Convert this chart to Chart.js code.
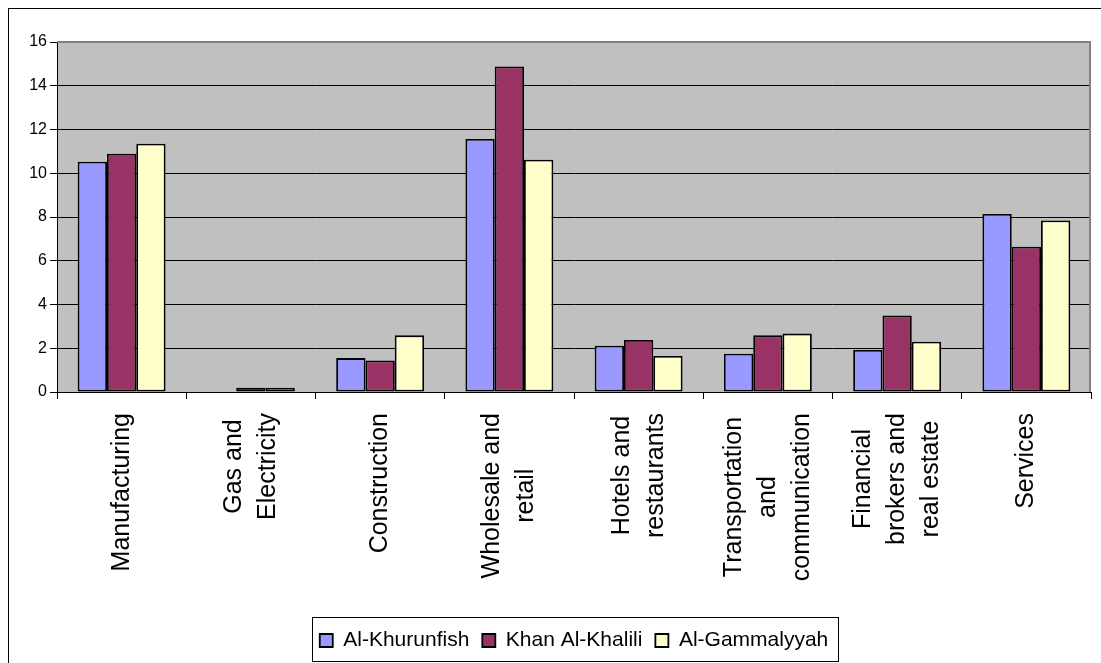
<!DOCTYPE html>
<html>
<head>
<meta charset="utf-8">
<title>Sectors</title>
<script src="https://cdn.jsdelivr.net/npm/chart.js@4.4.0/dist/chart.umd.min.js"></script>
<style>
    body { margin: 0; background: #ffffff; overflow: hidden; }
    canvas { display: block; }
</style>
</head>
<body>
<canvas id="barChart" width="1101" height="663"></canvas>
<script>
var categorias = [
    ["Manufacturing"],
    ["Gas and", "Electricity"],
    ["Construction"],
    ["Wholesale and", "retail"],
    ["Hotels and", "restaurants"],
    ["Transportation", "and", "communication"],
    ["Financial", "brokers and", "real estate"],
    ["Services"]
];
var khurunfish = [10.53, 0, 1.55, 11.57, 2.12, 1.75, 1.92, 8.14];
var khalili = [10.89, 0.2, 1.44, 14.88, 2.38, 2.59, 3.5, 6.64];
var gammalyyah = [11.35, 0.2, 2.59, 10.62, 1.65, 2.67, 2.3, 7.84];
var nombresSeries = ["Al-Khurunfish", "Khan Al-Khalili", "Al-Gammalyyah"];
var yTicks = [0, 2, 4, 6, 8, 10, 12, 14, 16];

var fuente = "'Liberation Sans', Arial, sans-serif";

// outer frame, grey plot area and the category labels
var marcoPlugin = {
    id: "marco",
    afterLayout: function (chart) {
        // centre the legend under the plot area
        let lg = chart.legend;
        let ca = chart.chartArea;
        let shift = ((ca.left + ca.right) - (lg.left + lg.right)) / 2;
        lg.left += shift;
        lg.right += shift;
    },
    beforeDraw: function (chart) {
        let ctx = chart.ctx;
        let ca = chart.chartArea;
        ctx.save();
        ctx.fillStyle = "#ffffff";
        ctx.fillRect(0, 0, chart.width, chart.height);
        ctx.strokeStyle = "#000000";
        ctx.lineWidth = 1;
        ctx.strokeRect(8.5, 8.5, 3000, 3000);
        ctx.fillStyle = "#c0c0c0";
        ctx.fillRect(ca.left, ca.top, ca.right - ca.left, ca.bottom - ca.top);
        ctx.restore();
    },
    afterDatasetsDraw: function (chart) {
        let ctx = chart.ctx;
        let ca = chart.chartArea;
        ctx.save();
        ctx.strokeStyle = "#808080";
        ctx.lineWidth = 2;
        ctx.beginPath();
        ctx.moveTo(ca.left, ca.top);
        ctx.lineTo(ca.right - 1, ca.top);
        ctx.lineTo(ca.right - 1, ca.bottom);
        ctx.stroke();
        ctx.restore();
    },
    afterDraw: function (chart) {
        let ctx = chart.ctx;
        let xScale = chart.scales.x;
        ctx.save();
        ctx.fillStyle = "#000000";
        ctx.font = "25px " + fuente;
        ctx.textAlign = "center";
        ctx.textBaseline = "middle";
        let lineHeight = 34;
        categorias.forEach(function (lineas, i) {
            let cx = xScale.getPixelForValue(i);
            let maxW = 0;
            lineas.forEach(function (l) {
                maxW = Math.max(maxW, ctx.measureText(l).width);
            });
            let cy = xScale.top + 21 + maxW / 2;
            lineas.forEach(function (l, j) {
                let lx = cx + (j - (lineas.length - 1) / 2) * lineHeight;
                ctx.save();
                ctx.translate(lx, cy);
                ctx.rotate(-Math.PI / 2);
                ctx.fillText(l, 0, 0);
                ctx.restore();
            });
        });

        // box round the legend
        let lg = chart.legend;
        let boxes = lg.legendHitBoxes;
        if (boxes && boxes.length) {
            let first = boxes[0];
            let last = boxes[boxes.length - 1];
            let left = Math.round(first.left - 8) + 0.5;
            let right = Math.round(last.left + last.width + 10) + 0.5;
            let top = Math.round(lg.top) + 0.5;
            let bottom = Math.round(lg.top + 44) + 0.5;
            ctx.strokeStyle = "#000000";
            ctx.lineWidth = 1;
            ctx.strokeRect(left, top, right - left, bottom - top);
        }
        ctx.restore();
    }
};

function crearGrafico() {
    let ctx = document.getElementById("barChart").getContext("2d");
    let barOpts = {
        borderColor: "#000000",
        borderWidth: 1.8,
        borderSkipped: false,
        categoryPercentage: 0.68,
        barPercentage: 1.0
    };

    new Chart(ctx, {
        type: "bar",
        data: {
            labels: categorias,
            datasets: [
                Object.assign({ label: nombresSeries[0], data: khurunfish, backgroundColor: "#9999ff" }, barOpts),
                Object.assign({ label: nombresSeries[1], data: khalili, backgroundColor: "#993366" }, barOpts),
                Object.assign({ label: nombresSeries[2], data: gammalyyah, backgroundColor: "#ffffcc" }, barOpts)
            ]
        },
        options: {
            responsive: false,
            animation: false,
            layout: {
                padding: { left: 20, right: 10, top: 42, bottom: 2 }
            },
            plugins: {
                tooltip: { enabled: false },
                legend: {
                    position: "bottom",
                    labels: {
                        color: "#000000",
                        font: { family: fuente, size: 21 },
                        boxWidth: 13,
                        boxHeight: 13,
                        padding: 13
                    }
                }
            },
            scales: {
                x: {
                    afterFit: function (s) { s.height = 225; },
                    grid: {
                        offset: true,
                        drawOnChartArea: false,
                        drawTicks: true,
                        tickLength: 7,
                        color: "#000000",
                        tickColor: "#000000"
                    },
                    border: { color: "#000000", width: 1 },
                    ticks: { display: false }
                },
                y: {
                    min: 0,
                    max: 16,
                    afterFit: function (s) { s.width = 37; },
                    afterBuildTicks: function (s) {
                        s.ticks = yTicks.map(function (v) { return { value: v }; });
                    },
                    grid: {
                        color: "#000000",
                        tickColor: "#000000",
                        tickLength: 7,
                        lineWidth: 1
                    },
                    border: { color: "#000000", width: 1 },
                    ticks: {
                        color: "#000000",
                        padding: 3,
                        font: { family: fuente, size: 16 }
                    }
                }
            }
        },
        plugins: [marcoPlugin]
    });
}

crearGrafico();
</script>
</body>
</html>
